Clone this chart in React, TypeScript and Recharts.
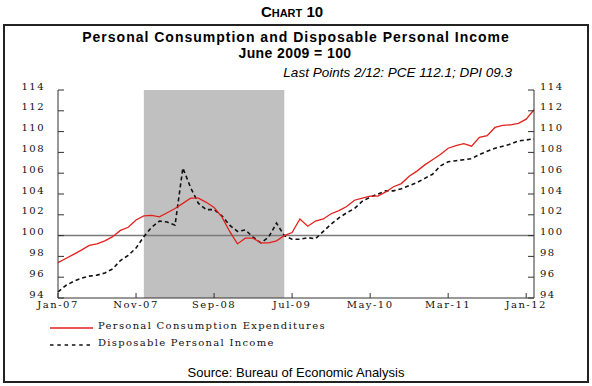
import React from "react";
import {
  LineChart,
  Line,
  XAxis,
  YAxis,
  ReferenceArea,
  ReferenceLine,
} from "recharts";

const MONTHS = ["Jan", "Feb", "Mar", "Apr", "May", "Jun", "Jul", "Aug", "Sep", "Oct", "Nov", "Dec"];
const YEARS = ["07", "08", "09", "10", "11", "12"];

const pce = [
  97.4, 97.8, 98.2, 98.6, 99.05, 99.2, 99.5, 99.9, 100.5, 100.8, 101.5, 101.9,
  101.95, 101.8, 102.2, 102.6, 103.1, 103.6, 103.6, 103.2, 102.7, 101.8, 100.4, 99.2,
  99.75, 99.75, 99.3, 99.3, 99.5, 100.0, 100.3, 101.6, 100.9, 101.4, 101.6, 102.1,
  102.4, 102.8, 103.4, 103.6, 103.8, 103.8, 104.2, 104.7, 105.0, 105.7, 106.2, 106.8,
  107.3, 107.8, 108.4, 108.65, 108.85, 108.6, 109.45, 109.6, 110.4, 110.6, 110.65, 110.8,
  111.2, 112.1,
];

const dpi = [
  94.6, 95.2, 95.6, 95.9, 96.1, 96.2, 96.4, 96.8, 97.6, 98.1, 98.8, 99.9,
  100.8, 101.4, 101.3, 101.0, 106.5, 104.6, 103.1, 102.5, 102.5, 101.9, 101.0, 100.4,
  100.55, 99.85, 99.3, 99.85, 101.2, 100.0, 99.65, 99.65, 99.8, 99.7, 100.4, 101.1,
  101.7, 102.2, 102.6, 103.3, 103.7, 104.0, 104.3, 104.3, 104.5, 104.8, 105.1, 105.5,
  105.9, 106.7, 107.1, 107.2, 107.3, 107.4, 107.8, 108.1, 108.4, 108.6, 108.8, 109.1,
  109.2, 109.3,
];

const months: string[] = [];
YEARS.forEach((y) => MONTHS.forEach((m) => months.push(`${m}-${y}`)));
const categories = months.slice(0, pce.length);

const xTicks = ["Jan-07", "Nov-07", "Sep-08", "Jul-09", "May-10", "Mar-11", "Jan-12"];
const yTicks = [94, 96, 98, 100, 102, 104, 106, 108, 110, 112, 114];
const recessionStart = "Dec-07";
const recessionEnd = "Jun-09";

const data = categories.map((c, i) => ({ month: c, pce: pce[i], dpi: dpi[i] }));

const SERIF = "'DejaVu Serif', 'Liberation Serif', serif";
const SANS = "'Liberation Sans', Arial, sans-serif";

const tickStyle = {
  fontSize: 10,
  fontFamily: SERIF,
  fill: "#111",
  letterSpacing: 1.5,
};

export default function App() {
  return (
    <div style={{ position: "absolute", left: 0, top: 0, width: 592, height: 386, background: "#fff" }}>
      <div style={{ position: "absolute", left: 0, top: 0 }}>
        <LineChart
          width={592}
          height={386}
          data={data}
          margin={{ top: 90, right: 0, bottom: 68, left: 0 }}
        >
          <ReferenceArea
            x1={recessionStart}
            x2={recessionEnd}
            yAxisId="left"
            fill="#c0c0c0"
            fillOpacity={1}
            stroke="none"
          />
          <ReferenceLine y={100} yAxisId="left" stroke="#7a7a7a" strokeWidth={1.5} />
          <XAxis
            dataKey="month"
            type="category"
            ticks={xTicks}
            interval={0}
            height={20}
            tickSize={-5}
            tickMargin={8}
            stroke="#333"
            tick={tickStyle}
          />
          <XAxis
            xAxisId="top"
            dataKey="month"
            orientation="top"
            height={0}
            tick={false}
            tickLine={false}
            stroke="#333"
          />
          <YAxis
            yAxisId="left"
            domain={[94, 114]}
            ticks={yTicks}
            width={58}
            tickSize={-6}
            tickMargin={19}
            stroke="#333"
            tick={{ ...tickStyle, dy: -4 }}
            interval={0}
            allowDataOverflow
          />
          <YAxis
            yAxisId="right"
            orientation="right"
            domain={[94, 114]}
            ticks={yTicks}
            width={58}
            tickSize={-6}
            tickMargin={12}
            stroke="#333"
            tick={{ ...tickStyle, dy: -4 }}
            interval={0}
            allowDataOverflow
          />
          <Line
            yAxisId="left"
            dataKey="dpi"
            stroke="#111"
            strokeWidth={1.6}
            strokeDasharray="4 3"
            dot={false}
            isAnimationActive={false}
          />
          <Line
            yAxisId="left"
            dataKey="pce"
            stroke="#e3211c"
            strokeWidth={1.3}
            dot={false}
            isAnimationActive={false}
          />
        </LineChart>
      </div>
      <svg
        width={592}
        height={386}
        style={{ position: "absolute", left: 0, top: 0, pointerEvents: "none" }}
      >
        <rect x={4} y={25} width={584} height={357} fill="none" stroke="#222" strokeWidth={2} />
        <text
          x={292}
          y={17}
          textAnchor="middle"
          fontFamily={SANS}
          fontWeight="bold"
          fontSize={15}
          style={{ fontVariant: "small-caps" }}
        >
          Chart 10
        </text>
        <text
          x={296}
          y={41.5}
          textAnchor="middle"
          fontFamily={SANS}
          fontWeight="bold"
          fontSize={14}
          letterSpacing={1}
        >
          Personal Consumption and Disposable Personal Income
        </text>
        <text
          x={295}
          y={57.5}
          textAnchor="middle"
          fontFamily={SANS}
          fontWeight="bold"
          fontSize={14}
          letterSpacing={0.4}
        >
          June 2009 = 100
        </text>
        <text x={512} y={77} textAnchor="end" fontFamily={SANS} fontStyle="italic" fontSize={13.5}>
          Last Points 2/12: PCE 112.1; DPI 09.3
        </text>
        <line x1={50} y1={328} x2={93} y2={328} stroke="#e3211c" strokeWidth={1.3} />
        <text x={98} y={329} fontFamily={SERIF} fontSize={10} letterSpacing={1.3} fill="#111">
          Personal Consumption Expenditures
        </text>
        <line x1={50} y1={345} x2={93} y2={345} stroke="#111" strokeWidth={1.6} strokeDasharray="3.5 3.8" />
        <text x={98} y={346} fontFamily={SERIF} fontSize={10} letterSpacing={1.3} fill="#111">
          Disposable Personal Income
        </text>
        <text x={296} y={377} textAnchor="middle" fontFamily={SANS} fontSize={13}>
          Source: Bureau of Economic Analysis
        </text>
      </svg>
    </div>
  );
}
